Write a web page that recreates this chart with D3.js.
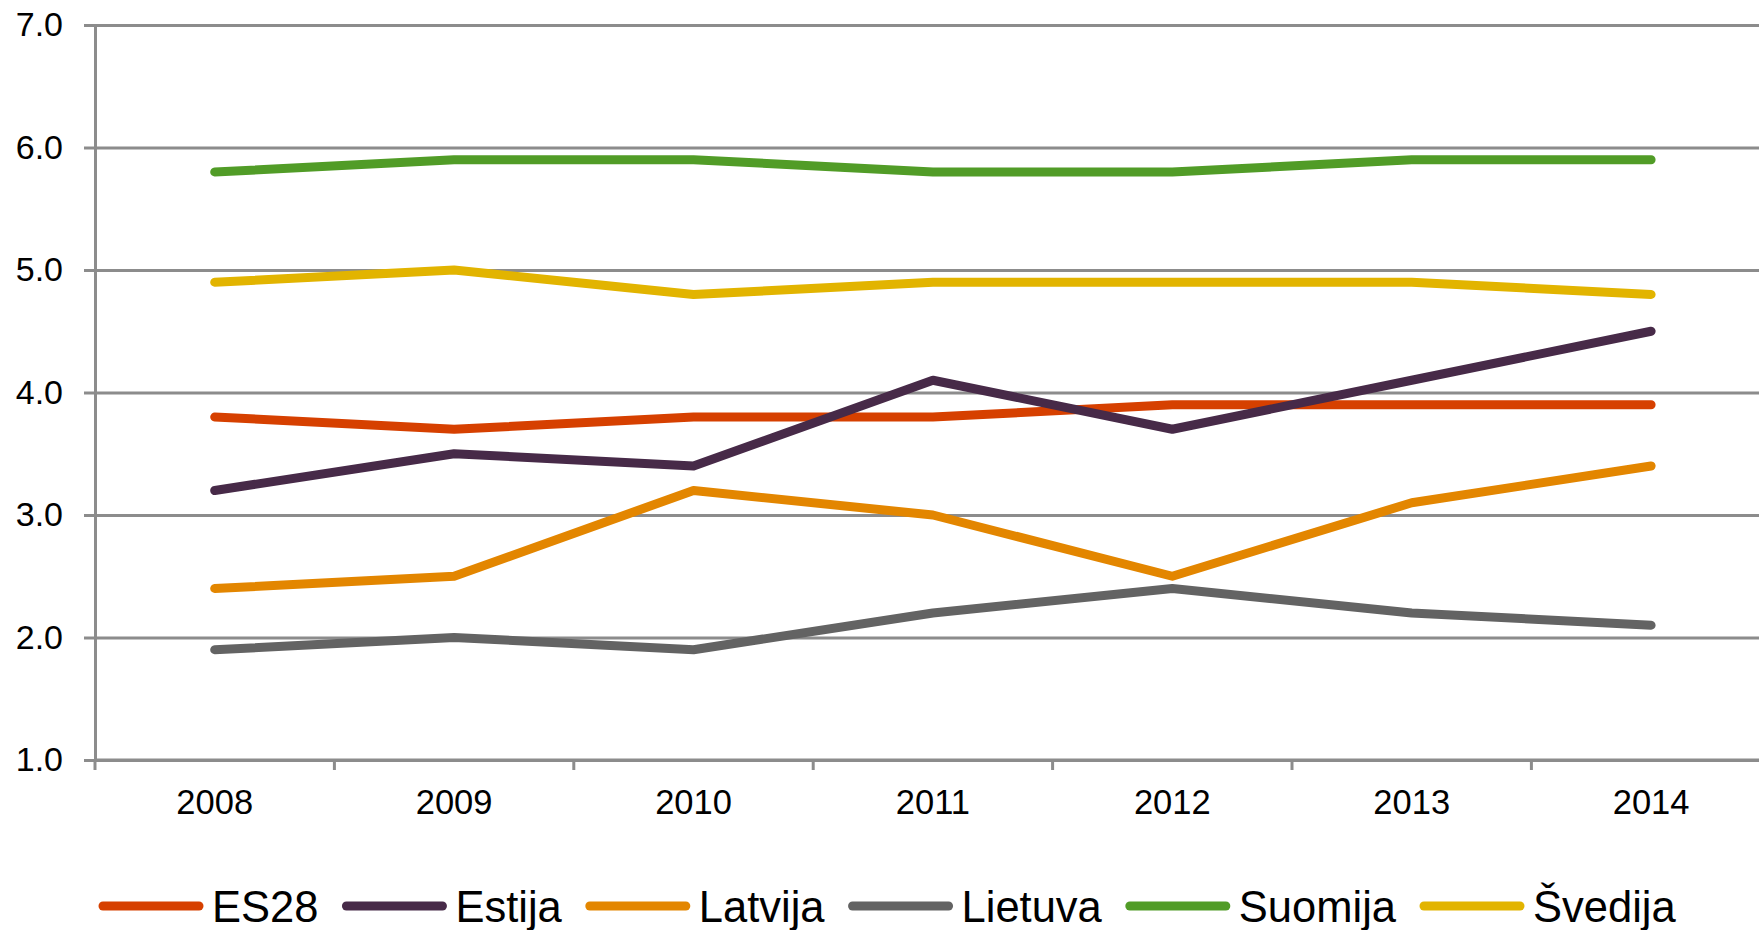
<!DOCTYPE html>
<html>
<head>
<meta charset="utf-8">
<script src="https://cdn.jsdelivr.net/npm/d3@7"></script>
<style>
  body { margin: 0; background: #fff; }
  svg { display: block; font-family: "Liberation Sans", Arial, sans-serif; }
</style>
</head>
<body>
<svg id="chart" width="1759" height="930"></svg>
<script>
// values
const years = ['2008', '2009', '2010', '2011', '2012', '2013', '2014'];
const seriesNames = ['ES28', 'Estija', 'Latvija', 'Lietuva', 'Suomija', 'Švedija'];
const es28 = [3.8, 3.7, 3.8, 3.8, 3.9, 3.9, 3.9];
const estija = [3.2, 3.5, 3.4, 4.1, 3.7, 4.1, 4.5];
const latvija = [2.4, 2.5, 3.2, 3.0, 2.5, 3.1, 3.4];
const lietuva = [1.9, 2.0, 1.9, 2.2, 2.4, 2.2, 2.1];
const suomija = [5.8, 5.9, 5.9, 5.8, 5.8, 5.9, 5.9];
const svedija = [4.9, 5.0, 4.8, 4.9, 4.9, 4.9, 4.8];
const yTicks = [1, 2, 3, 4, 5, 6, 7];
const colors = ['#d64000', '#472a48', '#e38600', '#636363', '#519c27', '#e2b400'];

const seriesValues = [es28, estija, latvija, lietuva, suomija, svedija];

const svg = d3.select('#chart');
const width = +svg.attr('width');
const margin = { top: 25, left: 95, bottom: 760 };
const plotRight = margin.left + 7 * 239.4;
const gridColor = '#8c8c8c';

const xScale = d3.scaleBand()
    .domain(years)
    .range([margin.left, plotRight]);

const yScale = d3.scaleLinear()
    .domain([1, 7])
    .range([margin.bottom, margin.top]);

// horizontal gridlines
svg.append('g')
    .attr('class', 'grid')
    .attr('transform', `translate(${margin.left}, 0)`)
    .call(d3.axisLeft(yScale).tickValues(yTicks).tickSize(-(width - margin.left)).tickFormat(''))
    .call(g => g.select('.domain').remove())
    .selectAll('line')
    .attr('stroke', gridColor)
    .attr('stroke-width', 3);

// y axis
svg.append('g')
    .attr('class', 'y-axis')
    .attr('transform', `translate(${margin.left}, 0)`)
    .call(d3.axisLeft(yScale).tickValues(yTicks).tickSize(11).tickSizeOuter(0).tickPadding(21).tickFormat(d3.format('.1f')))
    .call(g => g.select('.domain').attr('stroke', gridColor).attr('stroke-width', 3))
    .call(g => g.selectAll('line').attr('stroke', gridColor).attr('stroke-width', 3))
    .call(g => g.selectAll('text').attr('font-size', 34).attr('fill', '#000').attr('font-family', null));

// x axis: labels centred in bands, ticks between categories
svg.append('g')
    .attr('class', 'x-axis')
    .attr('transform', `translate(0, ${margin.bottom})`)
    .call(d3.axisBottom(xScale).tickSize(0).tickPadding(51))
    .call(g => g.select('.domain').remove())
    .call(g => g.selectAll('text').attr('font-size', 34.5).attr('fill', '#000').attr('font-family', null).attr('dy', '0.1em'));

svg.append('line')
    .attr('x1', margin.left)
    .attr('x2', width)
    .attr('y1', margin.bottom)
    .attr('y2', margin.bottom)
    .attr('stroke', gridColor)
    .attr('stroke-width', 3);

svg.append('g')
    .selectAll('line')
    .data(years)
    .enter().append('line')
    .attr('x1', d => xScale(d))
    .attr('x2', d => xScale(d))
    .attr('y1', margin.bottom)
    .attr('y2', margin.bottom + 10)
    .attr('stroke', gridColor)
    .attr('stroke-width', 3);

// series lines
const line = d3.line()
    .x((d, i) => xScale(years[i]) + xScale.bandwidth() / 2)
    .y(d => yScale(d));

svg.append('g')
    .selectAll('path')
    .data(seriesValues)
    .enter().append('path')
    .attr('d', d => line(d))
    .attr('fill', 'none')
    .attr('stroke', (d, i) => colors[i])
    .attr('stroke-width', 9)
    .attr('stroke-linecap', 'round')
    .attr('stroke-linejoin', 'round');

// legend
const legend = svg.append('g').attr('class', 'legend');
let lx = 99;
seriesNames.forEach((name, i) => {
    legend.append('line')
        .attr('x1', lx + 4)
        .attr('x2', lx + 100)
        .attr('y1', 906)
        .attr('y2', 906)
        .attr('stroke', colors[i])
        .attr('stroke-width', 9)
        .attr('stroke-linecap', 'round');
    const t = legend.append('text')
        .attr('x', lx + 113)
        .attr('y', 922)
        .attr('font-size', 43.5)
        .attr('fill', '#000')
        .text(name);
    lx += 113 + t.node().getComputedTextLength() + 24;
});
</script>
</body>
</html>
